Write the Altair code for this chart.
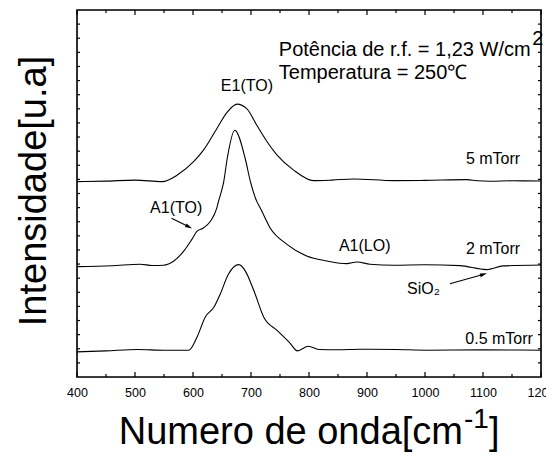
import altair as alt
import pandas as pd

# ---- data (x: wavenumber, y: intensity in a.u.) ----
x_5 = [400, 450, 500, 547, 573, 601, 618, 641, 659, 676, 693, 710, 728, 745, 773, 808, 840, 877, 946, 1000, 1072, 1090, 1112, 1150, 1200]
y_5 = [13.84, 13.88, 13.95, 13.84, 14.31, 15.25, 16.07, 17.59, 18.76, 19.33, 19.0, 17.83, 16.65, 15.72, 14.67, 13.91, 13.95, 14.03, 13.91, 13.93, 13.98, 13.9, 13.87, 13.9, 13.89]

x_2 = [400, 460, 509, 530, 549, 567, 584, 598, 607, 618, 630, 641, 644, 653, 659, 672, 690, 699, 710, 716, 733, 762, 796, 831, 865, 883, 905, 946, 1000, 1060, 1106, 1135, 1200]
y_2 = [7.82, 7.88, 7.99, 7.9, 7.92, 8.22, 8.92, 9.75, 10.33, 10.56, 11.03, 11.97, 12.44, 13.84, 15.48, 17.48, 15.48, 13.84, 12.44, 11.97, 10.56, 9.40, 8.57, 8.22, 8.03, 8.15, 7.99, 7.92, 7.95, 7.89, 7.61, 7.87, 7.94]

x_05 = [400, 450, 504, 550, 593, 607, 621, 636, 647, 661, 679, 690, 705, 722, 745, 768, 780, 799, 817, 850, 888, 950, 1003, 1100, 1200]
y_05 = [1.78, 1.85, 1.95, 1.9, 1.90, 2.83, 4.24, 4.94, 5.88, 7.28, 7.96, 7.52, 6.11, 4.24, 3.30, 2.37, 1.85, 2.18, 1.95, 1.93, 1.97, 1.95, 1.90, 1.92, 1.90]

x_ticks = [400, 500, 600, 700, 800, 900, 1000, 1100, 1200]
x_minor = [450, 550, 650, 750, 850, 950, 1050, 1150]
y_ticks = list(range(1, 26))

# annotations
lbl_left_text = ["Potência de r.f. = 1,23 W/cm", "Temperatura = 250℃", "SiO₂"]
lbl_left_x = [748, 748, 969]
lbl_left_y = [23.2, 21.56, 6.2]
lbl_left_size = [20, 20, 16]

lbl_center_text = ["E1(TO)", "A1(TO)", "A1(LO)"]
lbl_center_x = [693, 571, 896]
lbl_center_y = [20.65, 11.98, 9.3]

lbl_right_text = ["5 mTorr", "2 mTorr", "0.5 mTorr"]
lbl_right_x = [1164, 1164, 1186]
lbl_right_y = [15.43, 9.09, 2.68]

sup_text = ["2"]
sup_x = [1185]
sup_y = [23.95]

arrow_x1 = [563, 1043]
arrow_y1 = [11.25, 6.6]
arrow_x2 = [592, 1100]
arrow_y2 = [10.66, 7.26]
arrow_angle = [117, 74]

W, H = 464, 367
FONT = "Liberation Sans"
XMIN, XMAX, YMIN, YMAX = 400, 1200, 0, 26
PX_X = (XMAX - XMIN) / W   # data units per pixel (x)
PX_Y = (YMAX - YMIN) / H   # data units per pixel (y)

curves = pd.concat([
    pd.DataFrame({"x": x_5, "y": y_5, "s": "5 mTorr"}),
    pd.DataFrame({"x": x_2, "y": y_2, "s": "2 mTorr"}),
    pd.DataFrame({"x": x_05, "y": y_05, "s": "0.5 mTorr"}),
])

xs = alt.Scale(domain=[XMIN, XMAX], nice=False)
ys = alt.Scale(domain=[YMIN, YMAX], nice=False)

lines = alt.Chart(curves).mark_line(color="black", strokeWidth=1.1, interpolate="monotone").encode(
    x=alt.X("x:Q", scale=xs, axis=alt.Axis(values=x_ticks, title=None, ticks=False, domain=False, grid=False,
                                          labelFontSize=12.5, labelColor="black", labelFont=FONT, labelPadding=9,
                                          labelFlush=False, format="d")),
    y=alt.Y("y:Q", scale=ys, axis=None),
    detail="s:N",
)

dmaj = pd.DataFrame({"x": x_ticks})
dmin = pd.DataFrame({"x": x_minor})
dy = pd.DataFrame({"y": y_ticks})

def xtick(df, length):
    b = alt.Chart(df).mark_rule(color="black", strokeWidth=1.2).encode(
        x=alt.X("x:Q", scale=xs), y=alt.Y(datum=YMIN, scale=ys), y2=alt.datum(YMIN + length * PX_Y))
    t = alt.Chart(df).mark_rule(color="black", strokeWidth=1.2).encode(
        x=alt.X("x:Q", scale=xs), y=alt.Y(datum=YMAX, scale=ys), y2=alt.datum(YMAX - length * PX_Y))
    return b + t

yl = alt.Chart(dy).mark_rule(color="black", strokeWidth=1.2).encode(
    y=alt.Y("y:Q", scale=ys), x=alt.X(datum=XMIN, scale=xs), x2=alt.datum(XMIN + 3 * PX_X))
yr = alt.Chart(dy).mark_rule(color="black", strokeWidth=1.2).encode(
    y=alt.Y("y:Q", scale=ys), x=alt.X(datum=XMAX, scale=xs), x2=alt.datum(XMAX - 3 * PX_X))

# frame
frame = alt.Chart(pd.DataFrame({"k": [0]})).mark_rect(filled=False, stroke="black", strokeWidth=1.6).encode(
    x=alt.X(datum=XMIN, scale=xs), x2=alt.datum(XMAX), y=alt.Y(datum=YMIN, scale=ys), y2=alt.datum(YMAX))

def text_layer(txt, xv, yv, align, size):
    df = pd.DataFrame({"x": xv, "y": yv, "t": txt, "fs": size})
    return alt.Chart(df).mark_text(align=align, baseline="middle", font=FONT, color="black").encode(
        x=alt.X("x:Q", scale=xs), y=alt.Y("y:Q", scale=ys), text="t:N",
        size=alt.Size("fs:Q", scale=None, legend=None))

t_left = text_layer(lbl_left_text, lbl_left_x, lbl_left_y, "left", lbl_left_size)
t_center = text_layer(lbl_center_text, lbl_center_x, lbl_center_y, "center", [16] * 3)
t_right = text_layer(lbl_right_text, lbl_right_x, lbl_right_y, "right", [16] * 3)
t_sup = text_layer(sup_text, sup_x, sup_y, "left", [20])

adf = pd.DataFrame({"x1": arrow_x1, "y1": arrow_y1, "x2": arrow_x2, "y2": arrow_y2, "a": arrow_angle})
arrow_lines = alt.Chart(adf).mark_rule(color="black", strokeWidth=1.1).encode(
    x=alt.X("x1:Q", scale=xs), y=alt.Y("y1:Q", scale=ys), x2="x2:Q", y2="y2:Q")
arrow_heads = alt.Chart(adf).mark_point(shape="M0,-1L0.45,0.7L-0.45,0.7Z", filled=True, color="black",
                                        opacity=1, size=70).encode(
    x=alt.X("x2:Q", scale=xs), y=alt.Y("y2:Q", scale=ys), angle=alt.Angle("a:Q", scale=None))

# axis titles (with superscript)
xt_main = alt.Chart(pd.DataFrame({"t": ["Numero de onda[cm"]})).mark_text(
    align="right", baseline="alphabetic", font=FONT, fontSize=38, color="black").encode(
    x=alt.value(386), y=alt.value(434), text="t:N")
xt_sup = alt.Chart(pd.DataFrame({"t": ["-1"]})).mark_text(
    align="left", baseline="alphabetic", font=FONT, fontSize=28, color="black").encode(
    x=alt.value(387), y=alt.value(418), text="t:N")
xt_end = alt.Chart(pd.DataFrame({"t": ["]"]})).mark_text(
    align="left", baseline="alphabetic", font=FONT, fontSize=38, color="black").encode(
    x=alt.value(412), y=alt.value(434), text="t:N")
yt = alt.Chart(pd.DataFrame({"t": ["Intensidade[u.a]"]})).mark_text(
    align="center", baseline="middle", font=FONT, fontSize=38, angle=270, color="black").encode(
    x=alt.value(-42), y=alt.value(181), text="t:N")

chart = alt.layer(
    lines, xtick(dmaj, 5), xtick(dmin, 3), yl, yr, frame,
    t_left, t_center, t_right, t_sup, arrow_lines, arrow_heads,
    xt_main, xt_sup, xt_end, yt,
).properties(
    width=W, height=H,
    autosize=alt.AutoSizeParams(type="none"),
    padding={"left": 69, "top": 2, "right": 5, "bottom": 76},
).configure_view(stroke="black", strokeWidth=1.5).configure(background="white")

chart.save("out.html", embed_options={"renderer": "svg", "actions": False})
